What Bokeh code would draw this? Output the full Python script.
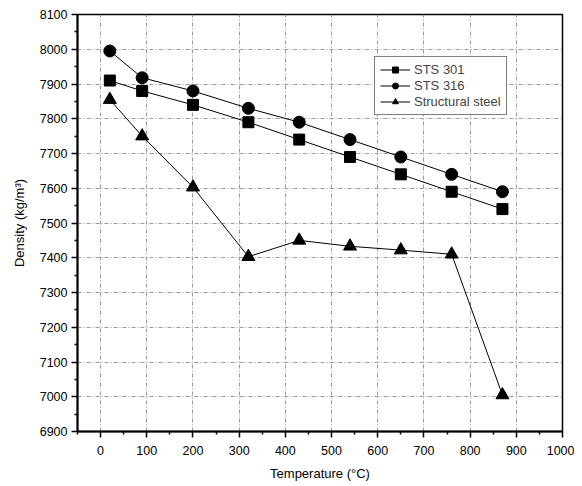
from bokeh.plotting import figure
from bokeh.models import Legend, LegendItem, FixedTicker
from bokeh.embed import file_html
from bokeh.resources import INLINE

temperature = [20, 90, 200, 320, 430, 540, 650, 760, 870]
sts301 = [7910, 7880, 7840, 7790, 7740, 7690, 7640, 7590, 7540]
sts316 = [7995, 7918, 7880, 7830, 7790, 7740, 7690, 7640, 7590]
structural = [7855, 7750, 7603, 7403, 7450, 7433, 7422, 7410, 7005]

x_ticks = [0, 100, 200, 300, 400, 500, 600, 700, 800, 900, 1000]
y_ticks = [6900, 7000, 7100, 7200, 7300, 7400, 7500, 7600, 7700, 7800, 7900, 8000, 8100]

FONT = "Liberation Sans"

p = figure(width=574, height=483, x_range=(-50, 1000), y_range=(6900, 8100),
           output_backend="svg", toolbar_location=None,
           min_border_left=77, min_border_right=12, min_border_top=14, min_border_bottom=47)
p.background_fill_color = "white"
p.outline_line_color = "black"
p.outline_line_width = 1.5
p.outline_line_alpha = 1.0

for ax in (p.xaxis[0], p.yaxis[0]):
    ax.axis_line_width = 2
    ax.axis_line_color = "black"
    ax.major_tick_out = 6
    ax.major_tick_in = 0
    ax.minor_tick_out = 3
    ax.minor_tick_in = 0
    ax.major_tick_line_width = 1.5
    ax.minor_tick_line_width = 1.5
    ax.major_label_text_font = FONT
    ax.major_label_text_font_size = "12.5px"
    ax.major_label_text_color = "black"
    ax.axis_label_text_font = FONT
    ax.axis_label_text_font_size = "13px"
    ax.axis_label_text_font_style = "normal"
    ax.axis_label_text_color = "black"

p.xaxis.ticker = FixedTicker(ticks=x_ticks, minor_ticks=[v + 50 for v in [-100] + x_ticks])
p.yaxis.ticker = FixedTicker(ticks=y_ticks, minor_ticks=[v + 50 for v in y_ticks])
p.xaxis.axis_label = "Temperature (°C)"
p.yaxis.axis_label = "Density (kg/m³)"
p.xaxis.axis_label_standoff = 8
p.yaxis.axis_label_standoff = 10
p.xaxis.major_label_standoff = 8
p.yaxis.major_label_standoff = 4

for g in (p.xgrid[0], p.ygrid[0]):
    g.grid_line_color = "#999999"
    g.grid_line_dash = "4 2 1 2"
    g.grid_line_width = 1

l1 = p.line(temperature, sts301, line_color="black", line_width=1)
m1 = p.scatter(temperature, sts301, marker="square", size=11, color="black")
l2 = p.line(temperature, sts316, line_color="black", line_width=1)
m2 = p.scatter(temperature, sts316, marker="circle", size=12, color="black")
l3 = p.line(temperature, structural, line_color="black", line_width=1)
m3 = p.scatter(temperature, structural, marker="triangle", size=13, color="black")

legend = Legend(items=[LegendItem(label="STS 301", renderers=[l1, m1]),
                       LegendItem(label="STS 316", renderers=[l2, m2]),
                       LegendItem(label="Structural steel", renderers=[l3, m3])],
                location=(297, 316))
legend.label_text_font = FONT
legend.label_text_font_size = "13px"
legend.label_standoff = 4
legend.glyph_width = 30
legend.glyph_height = 15
legend.spacing = 1
legend.padding = 5
legend.margin = 0
legend.border_line_color = "black"
legend.border_line_width = 1
legend.label_height = 15
p.add_layout(legend, "center")

open("out.html", "w").write(file_html(p, INLINE))
